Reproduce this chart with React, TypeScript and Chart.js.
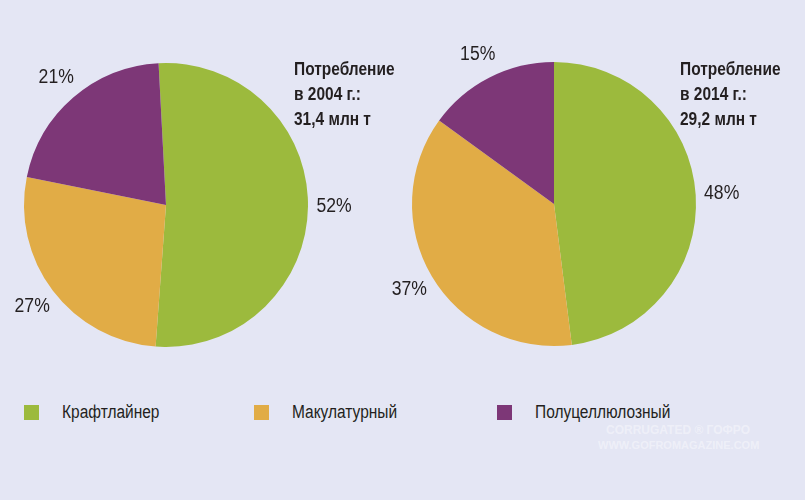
import { useEffect, useRef } from "react";
import { Chart, registerables } from "chart.js";

Chart.register(...registerables);

// categories and colours
const categories = ["Крафтлайнер", "Макулатурный", "Полуцеллюлозный"];
const colors = ["#9cba3d", "#e1ac46", "#7d3777"];

// shares, %
const share2004 = [52, 27, 21];
const share2014 = [48, 37, 15];

const title2004 = ["Потребление", "в 2004 г.:", "31,4 млн т"];
const title2014 = ["Потребление", "в 2014 г.:", "29,2 млн т"];

// no condensed face installed, so squeeze Liberation Sans horizontally
const FONT = "'Liberation Sans', Arial, sans-serif";
const TEXT = "#231f20";

// draws "NN%" next to each slice
const percentLabels = {
  id: "percentLabels",
  afterDatasetsDraw(chart: any) {
    const { ctx } = chart;
    const meta = chart.getDatasetMeta(0);
    const values = chart.data.datasets[0].data as number[];
    meta.data.forEach((arc: any, i: number) => {
      const { x, y, startAngle, endAngle, outerRadius } = arc.getProps(
        ["x", "y", "startAngle", "endAngle", "outerRadius"],
        true
      );
      const mid = (startAngle + endAngle) / 2;
      const r = outerRadius + 26;
      ctx.save();
      ctx.translate(x + Math.cos(mid) * r, y + Math.sin(mid) * r);
      ctx.scale(0.88, 1);
      ctx.font = `20px ${FONT}`;
      ctx.fillStyle = TEXT;
      ctx.textAlign = "center";
      ctx.textBaseline = "middle";
      ctx.fillText(`${values[i]}%`, 0, 0);
      ctx.restore();
    });
  },
};

type PieProps = {
  values: number[];
  rotation: number;
  box: { left: number; top: number; width: number; height: number };
  padding: { left: number; top: number; right: number; bottom: number };
};

function SharePie({ values, rotation, box, padding }: PieProps) {
  const canvasRef = useRef<HTMLCanvasElement | null>(null);

  useEffect(() => {
    if (!canvasRef.current) return;
    const chart = new Chart(canvasRef.current, {
      type: "pie",
      data: {
        labels: categories,
        datasets: [
          {
            data: values,
            backgroundColor: colors,
            borderWidth: 0,
            hoverOffset: 0,
          },
        ],
      },
      options: {
        animation: false,
        responsive: true,
        maintainAspectRatio: false,
        rotation,
        layout: { padding },
        plugins: {
          legend: { display: false },
          tooltip: { enabled: false },
        },
      },
      plugins: [percentLabels],
    });
    return () => chart.destroy();
  }, [values, rotation]);

  return (
    <div style={{ position: "absolute", ...box }}>
      <canvas ref={canvasRef} />
    </div>
  );
}

function Title({ lines, left }: { lines: string[]; left: number }) {
  return (
    <div
      style={{
        position: "absolute",
        left,
        top: 57,
        fontFamily: FONT,
        fontWeight: "bold",
        fontSize: 18,
        lineHeight: "25px",
        color: TEXT,
        whiteSpace: "nowrap",
        transform: "scaleX(0.86)",
        transformOrigin: "left top",
      }}
    >
      {lines.map((l) => (
        <div key={l}>{l}</div>
      ))}
    </div>
  );
}

export default function App() {
  const legendLeft = [24, 254, 497];
  return (
    <div
      style={{
        position: "fixed",
        left: 0,
        top: 0,
        width: 805,
        height: 500,
        background: "#e4e6f4",
        overflow: "hidden",
      }}
    >
      <SharePie
        values={share2004}
        rotation={-3}
        box={{ left: 0, top: 40, width: 400, height: 330 }}
        padding={{ left: 24, top: 23, right: 92, bottom: 23 }}
      />
      <SharePie
        values={share2014}
        rotation={0}
        box={{ left: 380, top: 40, width: 425, height: 330 }}
        padding={{ left: 32, top: 22, right: 109, bottom: 24 }}
      />
      <Title lines={title2004} left={294} />
      <Title lines={title2014} left={680} />

      {categories.map((c, i) => (
        <div
          key={c}
          style={{
            position: "absolute",
            left: legendLeft[i],
            top: 402,
            display: "flex",
            alignItems: "center",
            fontFamily: FONT,
            fontSize: 18,
            color: TEXT,
            whiteSpace: "nowrap",
          }}
        >
          <span
            style={{
              display: "inline-block",
              width: 15,
              height: 15,
              background: colors[i],
              marginRight: 23,
            }}
          />
          <span style={{ display: "inline-block", transform: "scaleX(0.86)", transformOrigin: "left center" }}>
            {c}
          </span>
        </div>
      ))}

      <div
        style={{
          position: "absolute",
          left: 598,
          top: 423,
          width: 160,
          fontFamily: FONT,
          fontWeight: "bold",
          color: "rgba(255,255,255,0.4)",
          textAlign: "center",
          lineHeight: "15px",
        }}
      >
        <div style={{ fontSize: 12 }}>CORRUGATED ® ГОФРО</div>
        <div style={{ fontSize: 11 }}>WWW.GOFROMAGAZINE.COM</div>
      </div>
    </div>
  );
}
